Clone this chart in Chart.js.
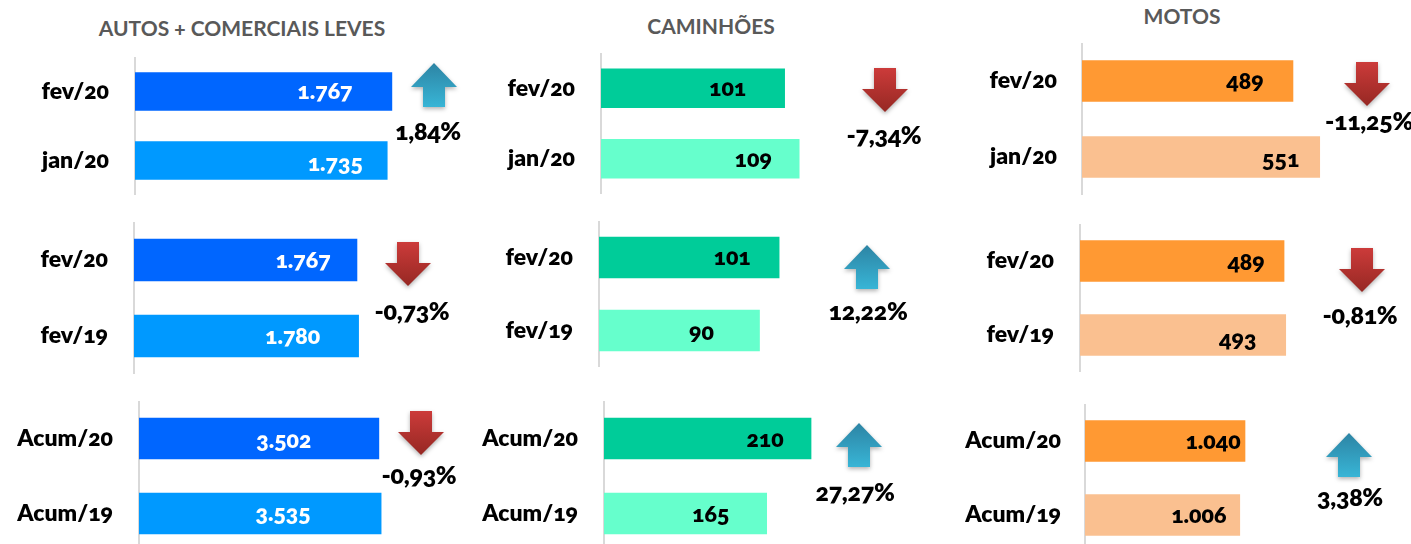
<!DOCTYPE html>
<html lang="pt-BR">
<head>
<meta charset="utf-8">
<title>Emplacamentos</title>
<script src="https://cdn.jsdelivr.net/npm/chart.js@4"></script>
<style>
    html, body { margin: 0; width: 1411px; height: 544px; overflow: hidden; background: #fff; }
    #page { position: relative; width: 1411px; height: 544px; overflow: hidden; font-feature-settings: "onum" 1; }
    canvas { position: absolute; font-feature-settings: "onum" 1; }
    .title, .pct { position: absolute; transform: translate(-50%, -50%); white-space: nowrap; font-family: Lato, sans-serif; font-weight: 700; }
    .title { color: #595959; font-size: 21px; }
    .pct { color: #000; font-size: 25px; font-weight: 800; letter-spacing: -0.3px; }
    svg { position: absolute; overflow: visible; filter: drop-shadow(0 2px 2px rgba(0,0,0,.3)); }
</style>
</head>
<body>
<div id="page"></div>
<script>
(function() {
    // dados
    const categories = [
        ['fev/20', 'jan/20'], ['fev/20', 'fev/19'], ['Acum/20', 'Acum/19'],
        ['fev/20', 'jan/20'], ['fev/20', 'fev/19'], ['Acum/20', 'Acum/19'],
        ['fev/20', 'jan/20'], ['fev/20', 'fev/19'], ['Acum/20', 'Acum/19']
    ];
    const autos = [[1767, 1735], [1767, 1780], [3502, 3535]];
    const caminhoes = [[101, 109], [101, 90], [210, 165]];
    const motos = [[489, 551], [489, 493], [1040, 1006]];
    const variacao = ['1,84%', '-0,73%', '-0,93%', '-7,34%', '12,22%', '27,27%', '-11,25%', '-0,81%', '3,38%'];
    const titles = ['AUTOS + COMERCIAIS LEVES', 'CAMINHÕES', 'MOTOS'];

    // layout
    const labelW = 135;
    const plotW = 280;
    const panels = [
        { left: 135, top: 56.5, bottom: 194.5, max: 1926, bar: 38, pad: 26 },
        { left: 134, top: 222, bottom: 374, max: 2219, bar: 42, pad: 26 },
        { left: 139, top: 401, bottom: 551, max: 4088, bar: 41, pad: 26 },
        { left: 601, top: 53, bottom: 194, max: 154, bar: 39, pad: 26 },
        { left: 599, top: 221, bottom: 367, max: 157, bar: 41, pad: 26 },
        { left: 604, top: 401, bottom: 551, max: 284, bar: 41, pad: 26 },
        { left: 1082, top: 42.5, bottom: 194.5, max: 649, bar: 41, pad: 25 },
        { left: 1080, top: 224, bottom: 372, max: 671, bar: 41, pad: 26 },
        { left: 1085, top: 403.5, bottom: 551.5, max: 1820, bar: 41, pad: 24 }
    ];
    const insets = [[67, 52], [54, 66], [95, 98], [57, 46], [47, 58], [46, 56], [48, 39], [38, 48], [32, 41]];
    const nudges = [[0, 3], [1, 1], [2, 0], [0, 1], [0, 2], [1, 1], [1, 3], [2, 5], [1, 1]];
    const barColors = [['#0066FF', '#0099FF'], ['#00CC99', '#66FFCC'], ['#FF9933', '#FAC090']];
    const labelColors = ['#FFFFFF', '#000000', '#000000'];
    const titleSpots = [[242, 27], [711, 25], [1182, 15]];
    const arrowSpots = [
        [434, 63], [408, 242], [421, 411],
        [885, 68], [867, 245], [859, 423],
        [1367, 62], [1362, 248], [1349, 433]
    ];
    const pctSpots = [
        [428, 130], [412, 310], [419, 474],
        [884, 134], [868, 310], [855, 491],
        [1369, 120], [1360, 314], [1350, 496]
    ];

    const page = document.getElementById('page');
    const series = autos.concat(caminhoes, motos);

    // rotulo dentro da barra
    const valueLabels = {
        id: 'valueLabels',
        afterDatasetsDraw(chart, args, opts) {
            const ctx = chart.ctx;
            ctx.save();
            ctx.font = '800 23px Lato, sans-serif';
            ctx.fillStyle = opts.color;
            ctx.textAlign = 'center';
            ctx.textBaseline = 'middle';
            chart.getDatasetMeta(0).data.forEach((bar, i) => {
                const text = chart.data.datasets[0].data[i].toLocaleString('pt-BR');
                ctx.fillText(text, bar.x - opts.insets[i], bar.y + opts.nudges[i]);
            });
            ctx.restore();
        }
    };

    panels.forEach((p, i) => {
        const col = Math.floor(i / 3);
        const canvas = document.createElement('canvas');
        canvas.width = labelW + plotW;
        canvas.height = p.bottom - p.top;
        canvas.style.left = (p.left - labelW) + 'px';
        canvas.style.top = p.top + 'px';
        page.appendChild(canvas);

        new Chart(canvas.getContext('2d'), {
            type: 'bar',
            data: {
                labels: categories[i],
                datasets: [{
                    data: series[i],
                    backgroundColor: barColors[col],
                    barThickness: p.bar
                }]
            },
            options: {
                indexAxis: 'y',
                responsive: false,
                animation: false,
                devicePixelRatio: 1,
                layout: { padding: 0 },
                plugins: {
                    legend: { display: false },
                    tooltip: { enabled: false },
                    valueLabels: { color: labelColors[col], insets: insets[i], nudges: nudges[i] }
                },
                scales: {
                    x: { display: false, min: 0, max: p.max },
                    y: {
                        afterFit: function(scale) {
                            scale.width = labelW;
                            // a margem do tick encolhe a area do grafico
                            scale.paddingTop = 0;
                            scale.paddingBottom = 0;
                        },
                        grid: { display: false, drawTicks: false },
                        border: { color: '#D9D9D9', width: 2 },
                        ticks: {
                            color: '#000',
                            padding: p.pad,
                            font: { family: 'Lato, sans-serif', size: 23, weight: '800' }
                        }
                    }
                }
            },
            plugins: [valueLabels]
        });

        addArrow(arrowSpots[i], variacao[i].charAt(0) !== '-', i);
        const pct = document.createElement('div');
        pct.className = 'pct';
        pct.textContent = variacao[i];
        pct.style.left = pctSpots[i][0] + 'px';
        pct.style.top = pctSpots[i][1] + 'px';
        page.appendChild(pct);
    });

    titles.forEach((t, i) => {
        const el = document.createElement('div');
        el.className = 'title';
        el.textContent = t;
        el.style.left = titleSpots[i][0] + 'px';
        el.style.top = titleSpots[i][1] + 'px';
        page.appendChild(el);
    });

    function addArrow(spot, up, i) {
        const points = up ? '23,0 46,24 34,24 34,44 12,44 12,24 0,24' : '12,0 34,0 34,21 46,21 23,44 0,21 12,21';
        const c1 = up ? '#2D84A4' : '#CC3B3A';
        const c2 = up ? '#38B5D6' : '#962823';
        const wrap = document.createElement('div');
        wrap.innerHTML = '<svg width="46" height="44" style="left:' + (spot[0] - 23) + 'px;top:' + spot[1] + 'px">' +
            '<defs><linearGradient id="g' + i + '" x1="0" y1="0" x2="0" y2="1">' +
            '<stop offset="0" stop-color="' + c1 + '"/><stop offset="1" stop-color="' + c2 + '"/></linearGradient></defs>' +
            '<polygon points="' + points + '" fill="url(#g' + i + ')"/></svg>';
        page.appendChild(wrap);
    }
})();
</script>
</body>
</html>
